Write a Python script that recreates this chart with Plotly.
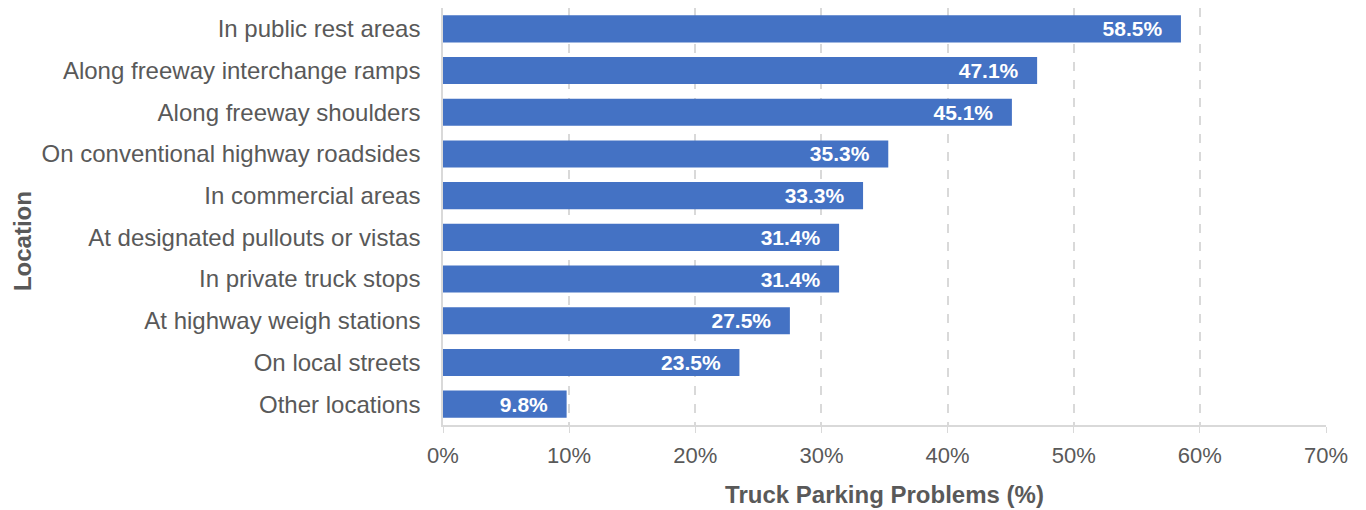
import plotly.graph_objects as go

categories = [
    "In public rest areas",
    "Along freeway interchange ramps",
    "Along freeway shoulders",
    "On conventional highway roadsides",
    "In commercial areas",
    "At designated pullouts or vistas",
    "In private truck stops",
    "At highway weigh stations",
    "On local streets",
    "Other locations",
]
values = [58.5, 47.1, 45.1, 35.3, 33.3, 31.4, 31.4, 27.5, 23.5, 9.8]
tick_vals = [0, 10, 20, 30, 40, 50, 60, 70]
tick_text = ["0%", "10%", "20%", "30%", "40%", "50%", "60%", "70%"]

font_family = "Liberation Sans, Arial, sans-serif"
grey = "#595959"

fig = go.Figure(
    go.Bar(
        x=values,
        y=categories,
        orientation="h",
        marker=dict(color="#4472C4", line=dict(width=0)),
        text=[f"{v:.1f}%\u00a0\u00a0\u2009" for v in values],
        textposition="inside",
        insidetextanchor="end",
        textangle=0,
        textfont=dict(family=font_family, size=21, color="white", weight="bold"),
        hoverinfo="skip",
    )
)

fig.update_layout(
    width=1350,
    height=502,
    margin=dict(l=435, r=32, t=0, b=85),
    paper_bgcolor="white",
    plot_bgcolor="white",
    bargap=0.35,
    showlegend=False,
    font=dict(family=font_family, size=22, color=grey),
    uniformtext=dict(minsize=21, mode="show"),
    annotations=[
        dict(
            text="Location",
            xref="paper",
            yref="paper",
            x=-0.4926,
            y=0.44,
            xanchor="left",
            yanchor="middle",
            textangle=-90,
            showarrow=False,
            borderpad=0,
            font=dict(size=24, color=grey, weight="bold"),
        )
    ],
)

fig.update_xaxes(
    range=[0, 70],
    tickvals=tick_vals,
    ticktext=tick_text,
    showgrid=True,
    gridcolor="#D9D9D9",
    griddash="dash",
    gridwidth=1.5,
    zeroline=False,
    showline=True,
    linecolor="#D9D9D9",
    linewidth=1.5,
    ticks="outside",
    ticklen=6,
    tickcolor="#D9D9D9",
    ticklabelstandoff=4,
    tickfont=dict(size=22, color=grey),
    title=dict(
        text="Truck Parking Problems (%)",
        font=dict(size=24, color=grey, weight="bold"),
        standoff=19,
    ),
)

fig.update_yaxes(
    categoryorder="array",
    categoryarray=categories[::-1],
    showgrid=False,
    showline=True,
    linecolor="#D9D9D9",
    linewidth=1.5,
    ticks="",
    ticklabelstandoff=16,
    tickfont=dict(size=24, color=grey),
)

fig.write_html("out.html")
